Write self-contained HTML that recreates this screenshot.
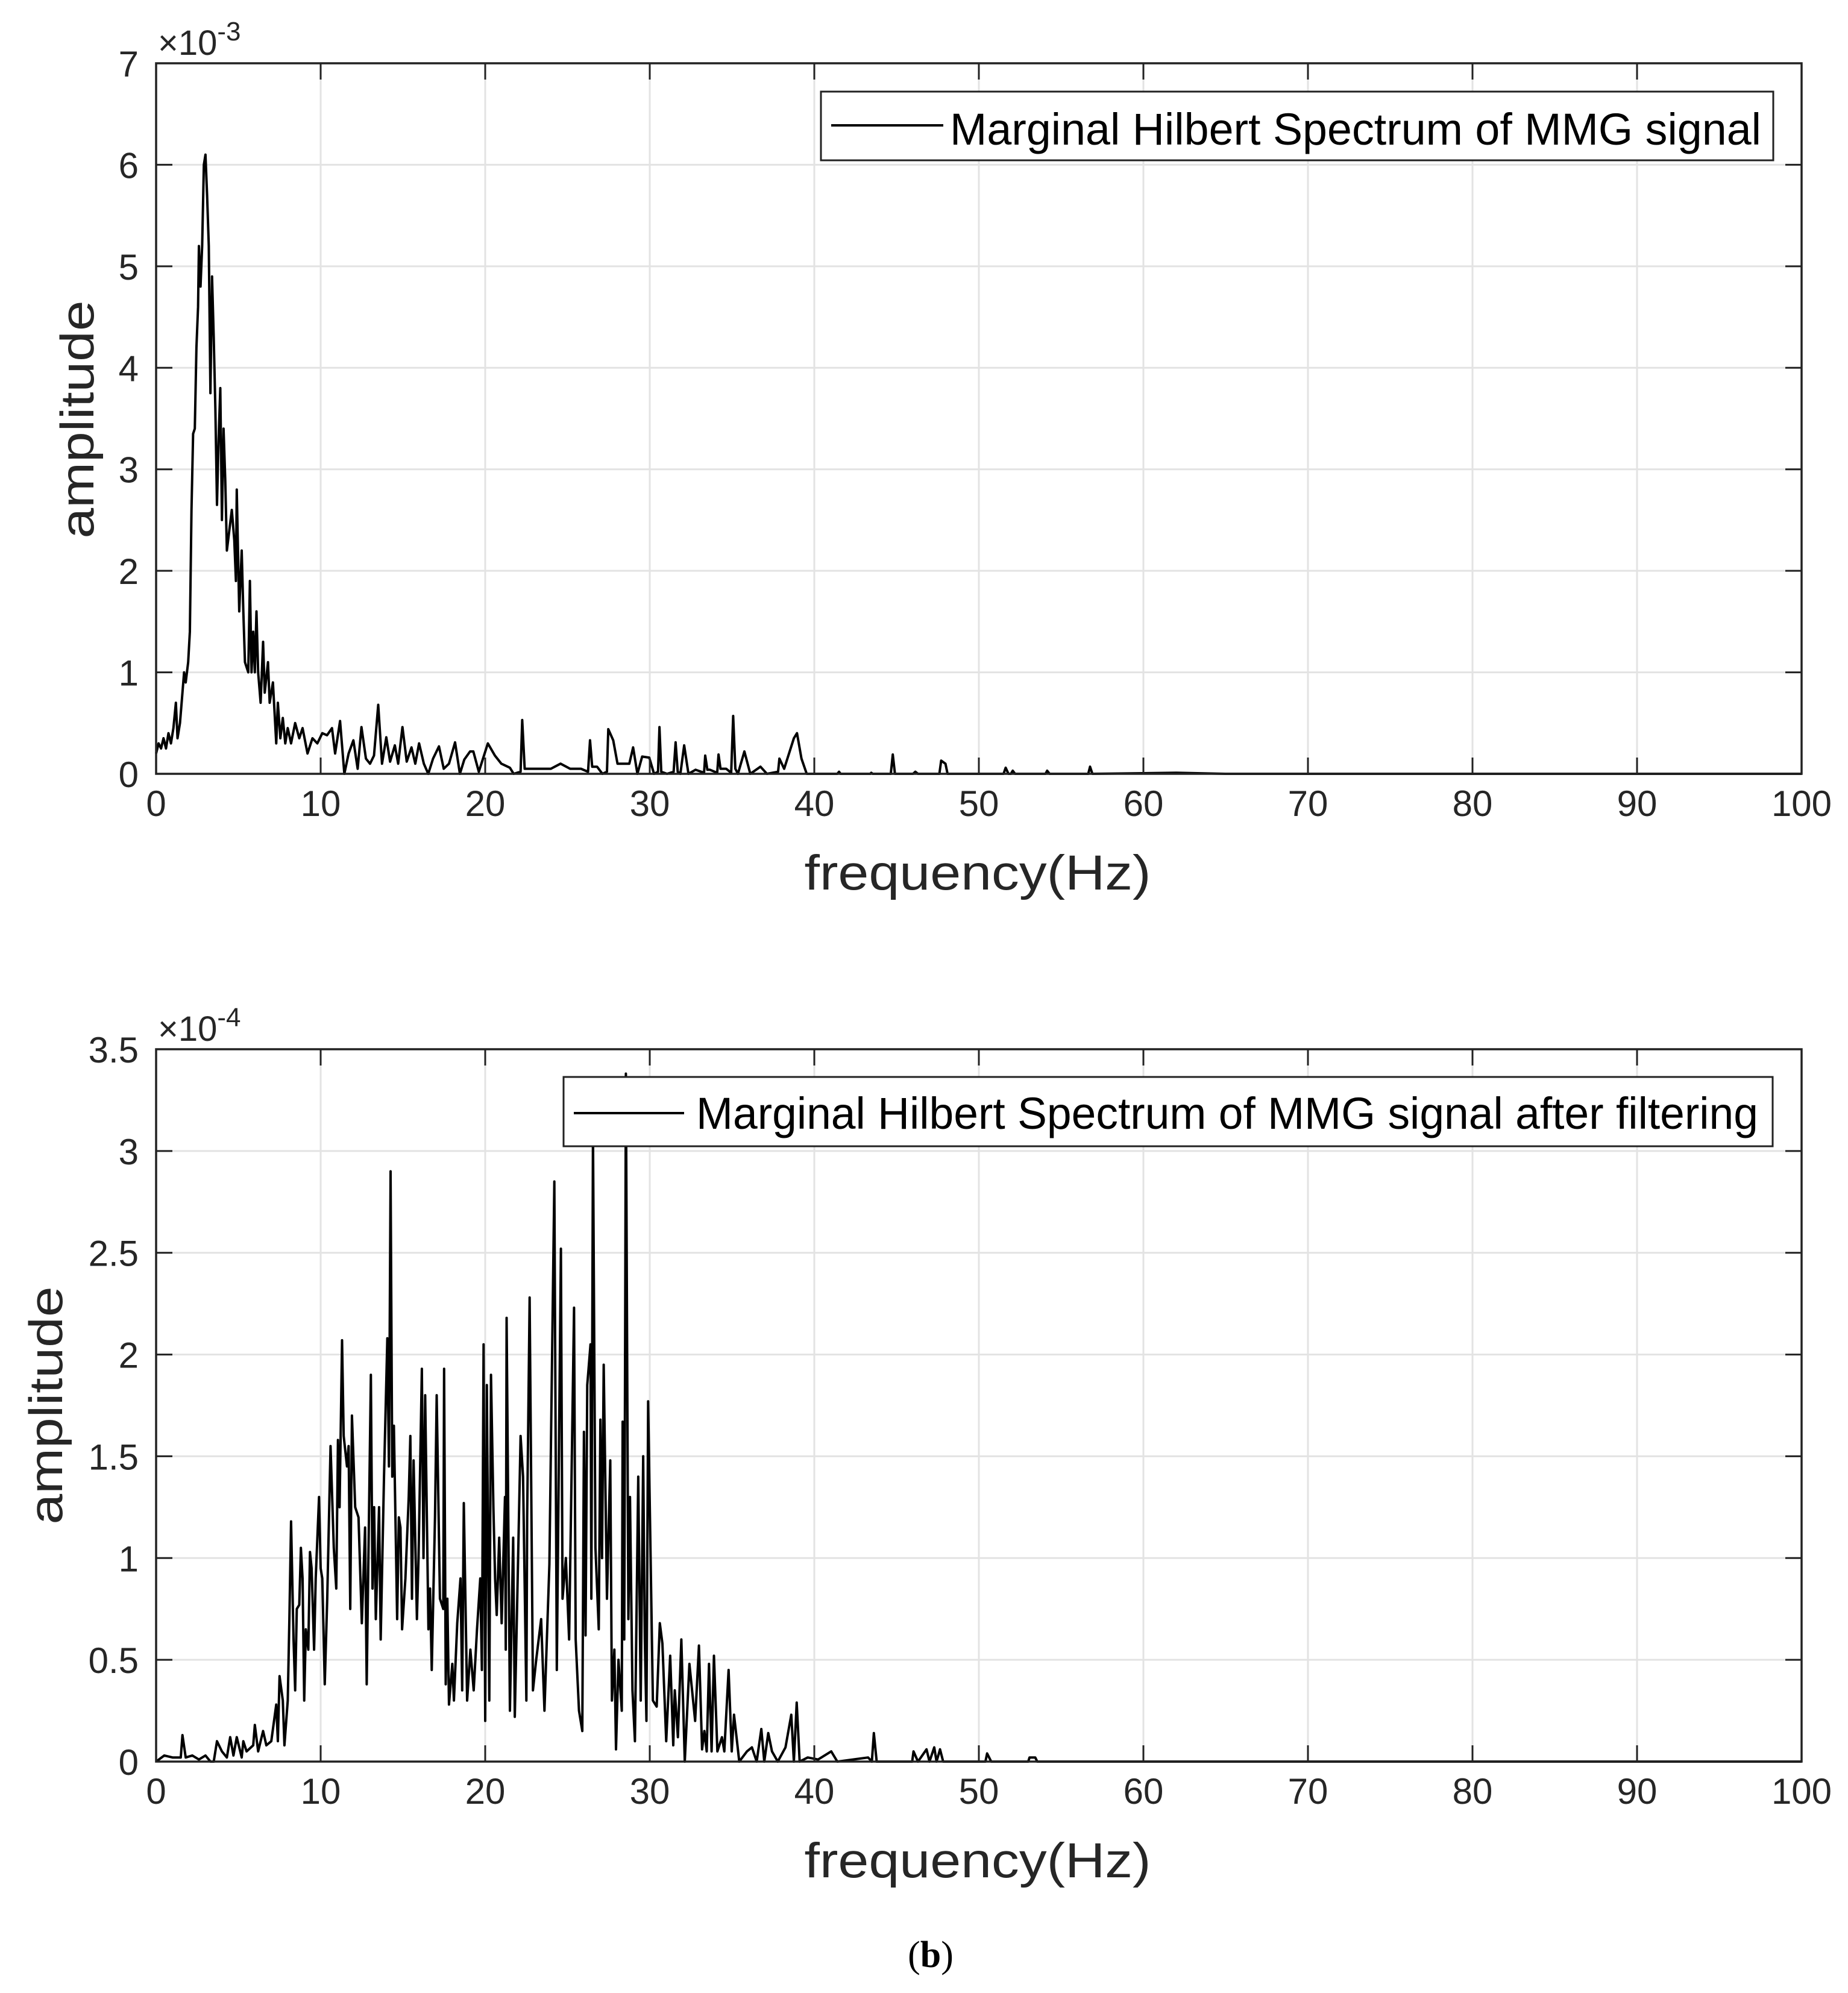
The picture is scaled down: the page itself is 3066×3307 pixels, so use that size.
<!DOCTYPE html>
<html><head><meta charset="utf-8">
<style>
html,body{margin:0;padding:0;background:#fff;}
svg{display:block;font-family:"Liberation Sans",Arial,sans-serif;}
</style></head>
<body>
<svg id="fig" width="3066" height="3307" viewBox="0 0 3066 3307" xmlns="http://www.w3.org/2000/svg">
<rect x="0" y="0" width="3066" height="3307" fill="#fff"/>
<text x="1544" y="3264" text-anchor="middle" font-family="Liberation Serif, serif" font-size="62">(<tspan font-weight="bold">b</tspan>)</text>
</svg>
<script>
// ---- data: top panel (amplitude x1e-3) ----
const topFreq = [0,0.15,0.3,0.45,0.6,0.75,0.9,1.05,1.2,1.3,1.45,1.6,1.7,1.8,1.95,2.05,2.15,2.25,2.35,2.45,2.55,2.6,2.7,2.8,2.9,3.0,3.1,3.2,3.3,3.4,3.5,3.6,3.7,3.8,3.9,4.0,4.1,4.2,4.3,4.45,4.6,4.75,4.85,4.9,5.05,5.2,5.3,5.4,5.6,5.7,5.8,5.9,6.0,6.1,6.2,6.35,6.5,6.6,6.8,6.9,7.1,7.3,7.4,7.55,7.7,7.85,8.0,8.2,8.45,8.7,8.9,9.2,9.5,9.8,10.1,
10.39,10.69,10.88,11.18,11.44,11.7,11.99,12.25,12.48,12.75,13.0,13.24,13.5,13.73,13.99,14.22,14.51,14.71,14.97,15.23,15.52,15.75,15.98,16.27,16.54,16.83,17.19,17.48,17.8,18.17,18.46,18.73,19.08,19.28,19.61,20.16,20.59,20.98,21.5,21.73,22.15,22.25,22.4,22.55,23.2,23.99,24.58,25.16,25.82,26.25,26.37,26.5,26.8,27.12,27.4,27.48,27.78,28.04,28.37,28.76,28.99,29.25,29.54,29.97,30.26,30.5,30.59,30.7,31.05,31.45,31.57,31.7,31.86,32.09,32.35,32.78,33.3,33.37,33.5,33.66,34.1,34.18,34.3,34.64,34.95,35.07,35.2,35.36,35.75,36.11,36.73,37.12,37.8,37.88,38.17,38.76,38.95,39.22,39.54,41.4,41.5,41.6,43.4,43.46,43.55,44.65,44.77,44.9,46.0,46.14,46.3,47.6,47.71,47.97,48.1,51.5,51.63,51.8,51.95,52.06,52.2,54.05,54.15,54.3,56.65,56.76,56.9,62,65,100];
const topAmp = [0.2,0.3,0.25,0.35,0.25,0.4,0.3,0.45,0.7,0.35,0.5,0.8,1.0,0.9,1.1,1.4,2.6,3.35,3.4,4.2,4.6,5.2,4.8,5.2,6.0,6.1,5.7,5.2,3.75,4.9,4.3,3.6,2.65,3.3,3.8,2.5,3.4,2.9,2.2,2.4,2.6,2.3,1.9,2.8,1.6,2.2,1.6,1.1,1.0,1.9,1.0,1.4,1.0,1.6,1.0,0.7,1.3,0.8,1.1,0.7,0.9,0.3,0.7,0.35,0.55,0.3,0.45,0.3,0.5,0.35,0.45,0.2,0.35,0.3,0.4,
0.38,0.45,0.2,0.52,0.0,0.2,0.33,0.05,0.46,0.15,0.1,0.18,0.68,0.1,0.36,0.12,0.28,0.1,0.46,0.12,0.26,0.1,0.3,0.1,0.0,0.15,0.27,0.05,0.1,0.31,0.0,0.14,0.22,0.22,0.02,0.3,0.18,0.1,0.06,0.0,0.02,0.53,0.05,0.05,0.05,0.05,0.1,0.05,0.05,0.02,0.33,0.07,0.07,0.0,0.02,0.44,0.33,0.1,0.1,0.1,0.26,0.0,0.17,0.16,0.0,0.02,0.46,0.02,0.0,0.02,0.31,0.02,0.0,0.28,0.0,0.04,0.01,0.18,0.04,0.04,0.01,0.19,0.05,0.05,0.01,0.57,0.05,0.0,0.22,0.0,0.07,0.0,0.02,0.15,0.05,0.35,0.4,0.15,0.0,0.0,0.02,0.0,0.0,0.01,0.0,0.0,0.19,0.0,0.0,0.02,0.0,0.0,0.13,0.1,0.0,0.0,0.06,0.0,0.0,0.03,0.0,0.0,0.03,0.0,0.0,0.07,0.0,0.01,0.0,0.0];
const topYTicks = [0,1,2,3,4,5,6,7];
const topYLabels = ["0","1","2","3","4","5","6","7"];

// ---- data: bottom panel (amplitude x1e-4) ----
const botFreq = [0,0.5,1,1.5,1.6,1.8,2.2,2.6,3,3.3,3.5,3.7,4.0,4.3,4.5,4.7,4.9,5.2,5.3,5.5,5.9,6.0,6.2,6.5,6.7,7.0,7.3,7.4,7.5,7.7,7.8,8.0,8.1,8.2,8.35,8.45,8.55,8.7,8.8,8.9,9.0,9.1,9.25,9.35,9.45,9.6,9.7,9.9,10.0,10.1,10.25,10.4,10.6,10.8,10.95,11.05,11.15,11.3,11.4,11.6,11.7,11.8,11.9,12.1,12.3,12.5,12.7,12.8,13.05,13.15,13.25,13.35,13.55,13.65,13.85,14.05,14.15,14.25,14.35,14.45,14.65,14.75,14.85,14.95,15.15,15.35,15.45,15.55,15.65,15.85,15.95,16.15,16.25,16.35,16.55,16.65,16.75,16.95,17.05,17.25,17.45,17.5,17.6,17.7,17.8,18.0,18.1,18.3,18.5,18.6,18.7,18.9,19.1,19.3,19.5,19.7,19.8,19.9,20.0,20.1,20.25,20.35,20.5,20.6,20.7,20.85,21.0,21.2,21.25,21.3,21.5,21.7,21.8,22.0,22.15,22.3,22.5,22.55,22.7,22.9,23.1,23.4,23.6,23.9,24.2,24.35,24.6,24.7,24.9,25.1,25.4,25.5,25.7,25.9,26.0,26.1,26.2,26.4,26.45,26.55,26.7,26.9,27.0,27.1,27.2,27.4,27.6,27.7,27.85,27.95,28.1,28.3,28.35,28.45,28.55,28.7,28.8,28.95,29.1,29.3,29.45,29.6,29.7,29.8,29.9,
30.19,30.42,30.61,30.77,31.0,31.24,31.43,31.52,31.71,31.92,32.13,32.41,32.76,32.99,33.18,33.32,33.46,33.6,33.76,33.9,34.11,34.39,34.53,34.79,34.98,35.12,35.33,35.44,35.91,36.21,36.5,36.78,36.96,37.2,37.43,37.78,38.25,38.6,38.76,38.93,39.11,39.6,40.23,41.03,41.4,42.34,43.27,43.5,43.62,43.79,44.9,45.95,46.03,46.3,46.82,47.0,47.29,47.43,47.64,47.83,50.4,50.5,50.75,53.0,53.08,53.43,53.55,100];
const botAmp = [0.0,0.03,0.02,0.02,0.13,0.02,0.03,0.01,0.03,0,0,0.1,0.05,0.02,0.12,0.03,0.12,0.02,0.1,0.05,0.08,0.18,0.05,0.15,0.08,0.1,0.28,0.1,0.42,0.3,0.08,0.3,0.7,1.18,0.6,0.35,0.75,0.77,1.05,0.9,0.3,0.65,0.55,1.03,0.95,0.55,0.9,1.3,0.95,0.9,0.38,0.8,1.55,1.05,0.85,1.58,1.25,2.07,1.6,1.45,1.55,0.75,1.7,1.25,1.2,0.68,1.15,0.38,1.9,0.85,1.25,0.7,1.25,0.6,1.4,2.08,1.45,2.9,1.4,1.65,0.7,1.2,1.15,0.65,0.9,1.3,1.6,0.8,1.48,0.7,1.0,1.93,1.0,1.8,0.65,0.85,0.45,1.2,1.8,0.8,0.75,1.93,0.38,0.8,0.28,0.48,0.3,0.68,0.9,0.35,1.27,0.3,0.55,0.35,0.65,0.9,0.45,2.05,0.2,1.85,0.3,1.9,1.25,0.9,0.72,1.1,0.68,1.3,0.55,2.18,0.25,1.1,0.22,1.0,1.6,1.4,0.3,1.2,2.28,0.35,0.5,0.7,0.25,0.97,2.85,0.45,2.52,0.8,1.0,0.6,2.23,0.6,0.25,0.15,1.62,0.62,1.85,2.05,0.8,3.1,1.05,0.65,1.68,1.0,1.95,0.8,1.48,0.3,0.55,0.06,0.5,0.25,1.67,0.6,3.38,0.7,1.3,0.35,0.1,1.4,0.3,1.5,0.6,0.2,1.77,
0.3,0.27,0.68,0.58,0.1,0.52,0.08,0.35,0.12,0.6,0.0,0.48,0.2,0.57,0.06,0.15,0.05,0.48,0.05,0.52,0.05,0.12,0.05,0.45,0.05,0.23,0.08,0.0,0.05,0.07,0.0,0.16,0.0,0.14,0.05,0.0,0.07,0.23,0.0,0.29,0.0,0.02,0.01,0.05,0.0,0.01,0.02,0.0,0.14,0.0,0.0,0.0,0.05,0.0,0.06,0.0,0.07,0.0,0.06,0.0,0.0,0.04,0.0,0.0,0.02,0.02,0.0,0.0];
const botYTicks = [0,0.5,1,1.5,2,2.5,3,3.5];
const botYLabels = ["0","0.5","1","1.5","2","2.5","3","3.5"];

const xTicks = [0,10,20,30,40,50,60,70,80,90,100];
const xLabels = ["0","10","20","30","40","50","60","70","80","90","100"];

const NS = "http://www.w3.org/2000/svg";
const svg = document.getElementById('fig');
function mk(tag, attrs, parent){
  const e = document.createElementNS(NS, tag);
  for (const k in attrs) e.setAttribute(k, attrs[k]);
  (parent||svg).appendChild(e);
  return e;
}

function panel(cfg){
  const g = mk('g', {});
  
  
  const L=259, R=2989, T=cfg.top, B=cfg.bottom;
  const xs = v => L + (v-0)/(100-0)*(R-L);
  const ys = v => B - v/cfg.ymax*(B-T);
  xTicks.forEach(t=>{ if(t>0&&t<100){ const ln = mk('line',{x1:xs(t),x2:xs(t),y1:T,y2:B,stroke:'#e3e3e3','stroke-width':3},g);
      }});
  cfg.yTicks.forEach(t=>{ if(t>0&&t<cfg.ymax){ const ln = mk('line',{x1:L,x2:R,y1:ys(t),y2:ys(t),stroke:'#e3e3e3','stroke-width':3},g);
      }});
  let d='';
  cfg.freq.forEach((f,i)=>{ d += (i?'L':'M') + xs(f).toFixed(1) + ',' + ys(cfg.amp[i]).toFixed(1); });
  const p = mk('path',{d:d,fill:'none',stroke:'#000','stroke-width':4,'stroke-linejoin':'round'},g);
  
  
  const box = mk('rect',{x:L,y:T,width:R-L,height:B-T,fill:'none',stroke:'#222','stroke-width':3.5},g);
   
  xTicks.forEach((t,i)=>{
    mk('line',{x1:xs(t),x2:xs(t),y1:B,y2:B-27,stroke:'#222','stroke-width':3},g);
    mk('line',{x1:xs(t),x2:xs(t),y1:T,y2:T+27,stroke:'#222','stroke-width':3},g);
    const tx = mk('text',{x:xs(t),y:cfg.bottom+70,'text-anchor':'middle','font-size':60,fill:'#262626'},g);
    tx.textContent = xLabels[i];
     
  });
  cfg.yTicks.forEach((t,i)=>{
    mk('line',{x1:L,x2:L+27,y1:ys(t),y2:ys(t),stroke:'#222','stroke-width':3},g);
    mk('line',{x1:R,x2:R-27,y1:ys(t),y2:ys(t),stroke:'#222','stroke-width':3},g);
    const tx = mk('text',{x:230,y:ys(t)+22,'text-anchor':'end','font-size':60,fill:'#262626'},g);
    tx.textContent = cfg.yLabels[i];
     
  });
  const ex = mk('text',{x:262,y:cfg.top-14,'font-size':58,fill:'#262626'},g);
  ex.textContent = '\u00D710';
  const sup = mk('tspan',{dy:-24,'font-size':44},ex);
  sup.textContent = cfg.exp;
   
  const xt = mk('text',{x:1622,y:cfg.bottom+192,'text-anchor':'middle','font-size':82,fill:'#262626',textLength:575,lengthAdjust:'spacingAndGlyphs'},g);
  xt.textContent='frequency(Hz)';
   
  const yt = mk('text',{x:0,y:0,'text-anchor':'middle','font-size':78,fill:'#262626',textLength:395,lengthAdjust:'spacingAndGlyphs',transform:`translate(${cfg.ytx},${cfg.yty}) rotate(-90)`},g);
  yt.textContent='amplitude';
   
  const lg = mk('g',{},g);
   
  mk('rect',{x:cfg.lx1,y:cfg.ly1,width:cfg.lx2-cfg.lx1,height:cfg.ly2-cfg.ly1,fill:'#fff',stroke:'#222','stroke-width':3},lg);
  const ll = mk('line',{x1:cfg.lineX1,x2:cfg.lineX2,y1:cfg.lineY,y2:cfg.lineY,stroke:'#000','stroke-width':4},lg);
   
  const lt = mk('text',{x:cfg.textX,y:cfg.textY,'font-size':74,fill:'#000',textLength:cfg.textW,lengthAdjust:'spacingAndGlyphs'},lg);
  lt.textContent = cfg.legend;
   
}

panel({name:'top-panel',seriesName:'mhs-raw-line',top:105,bottom:1284,ymax:7,yTicks:topYTicks,yLabels:topYLabels,
  freq:topFreq,amp:topAmp,exp:'-3',ytx:155,yty:696,
  lx1:1362,lx2:2942,ly1:152,ly2:266,lineX1:1379,lineX2:1565,lineY:208,textX:1576,textY:240,textW:1346,
  legend:'Marginal Hilbert Spectrum of MMG signal'});
panel({name:'bottom-panel',seriesName:'mhs-filtered-line',top:1741,bottom:2923,ymax:3.5,yTicks:botYTicks,yLabels:botYLabels,
  freq:botFreq,amp:botAmp,exp:'-4',ytx:103,yty:2332,
  lx1:935,lx2:2941,ly1:1787,ly2:1902,lineX1:952,lineX2:1135,lineY:1847,textX:1155,textY:1873,textW:1762,
  legend:'Marginal Hilbert Spectrum of MMG signal after filtering'});
</script>
</body></html>
